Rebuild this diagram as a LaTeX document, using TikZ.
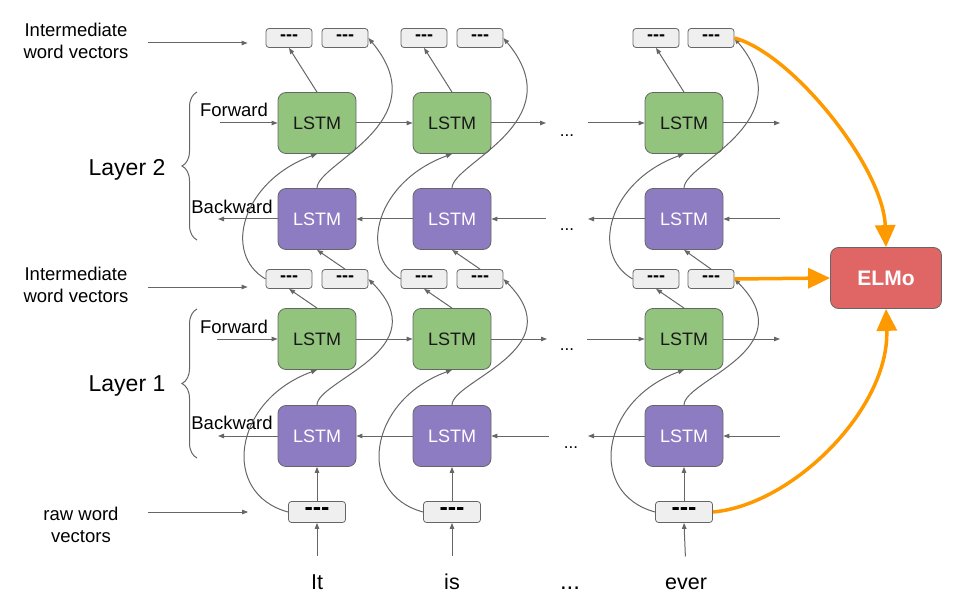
\documentclass[tikz,border=0pt]{standalone}
\usepackage{fontspec}
\setmainfont{Liberation Sans}
\usetikzlibrary{arrows.meta,decorations.pathreplacing}
\definecolor{lstmgreen}{HTML}{93C47D}
\definecolor{lstmpurple}{HTML}{8E7CC3}
\definecolor{elmored}{HTML}{E06666}
\definecolor{vecgray}{HTML}{EFEFEF}
\definecolor{linegray}{HTML}{666666}
\definecolor{elmoorange}{HTML}{FF9900}

\begin{document}
\begin{tikzpicture}[x=1pt,y=1pt,
  lstm/.style={draw=linegray,line width=0.8pt,rounded corners=8pt,minimum width=78pt,minimum height=61pt,font=\fontsize{18}{20}\selectfont},
  fwd/.style={lstm,fill=lstmgreen,text=black!90},
  bwd/.style={lstm,fill=lstmpurple,text=white},
  vec/.style={draw=linegray,line width=0.8pt,fill=vecgray,rounded corners=3pt,minimum width=46pt,minimum height=19pt,inner sep=0pt,font=\bfseries\fontsize{18}{18}\selectfont},
  rawvec/.style={vec,minimum width=57pt,minimum height=21pt,font=\bfseries\fontsize{25}{25}\selectfont},
  elmobox/.style={draw=linegray,line width=0.8pt,fill=elmored,rounded corners=8pt,minimum width=111pt,minimum height=61pt,text=white,font=\bfseries\fontsize{21}{24}\selectfont},
  lbl/.style={font=\fontsize{18.5}{22}\selectfont,align=center},
  word/.style={anchor=base,text height=14pt,text depth=4pt,font=\fontsize{21.5}{24}\selectfont},
  dots/.style={anchor=base,font=\fontsize{17}{20}\selectfont},
  link/.style={draw=linegray,line width=1pt,-{Triangle[length=6pt,width=4.5pt]}},
  feed/.style={draw=elmoorange,line width=3.5pt,-{Triangle[length=22pt,width=20pt]}},
  layerbrace/.style={draw=linegray,line width=1pt,decorate,decoration={brace,amplitude=15pt}}]
\useasboundingbox (0,0) rectangle (971,614);
% left labels
\node[lbl] (iv2) at (76,573) {Intermediate\\word vectors};
\node[lbl] (iv1) at (76,329) {Intermediate\\word vectors};
\node[lbl] (rawlbl) at (81,89) {raw word\\vectors};
\node[font=\fontsize{23}{26}\selectfont] (layer2) at (127,444) {Layer 2};
\node[font=\fontsize{23}{26}\selectfont] (layer1) at (127,228) {Layer 1};
\node[lbl] (fw2) at (234,504) {Forward};
\node[lbl] (bw2) at (232,407) {Backward};
\node[lbl] (fw1) at (234,287) {Forward};
\node[lbl] (bw1) at (232,191) {Backward};
\draw[layerbrace] (197,374) -- (197,522);
\draw[layerbrace] (197,156) -- (197,305);
% column "It"
\node[fwd] (f2a) at (317,491) {LSTM};
\node[bwd] (b2a) at (317,395) {LSTM};
\node[fwd] (f1a) at (317,275) {LSTM};
\node[bwd] (b1a) at (317,178) {LSTM};
\node[vec] (h2fa) at (289,576) {-{}-{}-};
\node[vec] (h2ba) at (345,576) {-{}-{}-};
\node[vec] (h1fa) at (289,335) {-{}-{}-};
\node[vec] (h1ba) at (345,335) {-{}-{}-};
\node[rawvec] (xa) at (317,102) {-{}-{}-};
\node[word] (wa) at (317,25) {It};
% column "is"
\node[fwd] (f2b) at (452,491) {LSTM};
\node[bwd] (b2b) at (452,395) {LSTM};
\node[fwd] (f1b) at (452,275) {LSTM};
\node[bwd] (b1b) at (452,178) {LSTM};
\node[vec] (h2fb) at (424,576) {-{}-{}-};
\node[vec] (h2bb) at (480,576) {-{}-{}-};
\node[vec] (h1fb) at (424,335) {-{}-{}-};
\node[vec] (h1bb) at (480,335) {-{}-{}-};
\node[rawvec] (xb) at (452,102) {-{}-{}-};
\node[word] (wb) at (452,25) {is};
% column "ever"
\node[fwd] (f2c) at (684,491) {LSTM};
\node[bwd] (b2c) at (684,395) {LSTM};
\node[fwd] (f1c) at (684,275) {LSTM};
\node[bwd] (b1c) at (684,178) {LSTM};
\node[vec] (h2fc) at (656,576) {-{}-{}-};
\node[vec] (h2bc) at (711,576) {-{}-{}-};
\node[vec] (h1fc) at (656,335) {-{}-{}-};
\node[vec] (h1bc) at (711,335) {-{}-{}-};
\node[rawvec] (xc) at (684,102) {-{}-{}-};
\node[word] (wc) at (686,25) {ever};
% dots
\node[dots] (d2f) at (567,477) {...};
\node[dots] (d2b) at (567,383) {...};
\node[dots] (d1f) at (567,264) {...};
\node[dots] (d1b) at (571,166) {...};
\node[word,font=\fontsize{24}{26}\selectfont] (dw) at (570,25) {...};
% ELMo
\node[elmobox] (elmo) at (886,336) {ELMo};
% free ends
\coordinate (iv2tail) at (148,571);
\coordinate (iv1tail) at (148,327);
\coordinate (rawtail) at (148,102);
\coordinate (f2in) at (220,491);
\coordinate (b2out) at (218,395);
\coordinate (f1in) at (217,275);
\coordinate (b1out) at (218,178);
\coordinate (f2gl) at (546,491);
\coordinate (f2gr) at (588,491);
\coordinate (b2gl) at (546,395);
\coordinate (b2gr) at (588,395);
\coordinate (f1gl) at (547,275);
\coordinate (f1gr) at (587,275);
\coordinate (b1gl) at (549,178);
\coordinate (b1gr) at (588,178);
\coordinate (f2end) at (780,491);
\coordinate (b2end) at (780,395);
\coordinate (f1end) at (780,275);
\coordinate (b1end) at (780,178);
% label arrows
\draw[link,shorten >=18pt] (iv2tail) -- (iv2tail -| h2fa.west);
\draw[link,shorten >=18pt] (iv1tail) -- (iv1tail -| h1fa.west);
\draw[link,shorten >=40pt] (rawtail) -- (xa.west);
% horizontal links
\draw[link] (f2in) -- (f2a.west);
\draw[link] (f2a.east) -- (f2b.west);
\draw[link] (f2b.east) -- (f2gl);
\draw[link] (f2gr) -- (f2c.west);
\draw[link] (f2c.east) -- (f2end);
\draw[link] (b2a.west) -- (b2out);
\draw[link] (b2b.west) -- (b2a.east);
\draw[link] (b2gl) -- (b2b.east);
\draw[link] (b2c.west) -- (b2gr);
\draw[link] (b2end) -- (b2c.east);
\draw[link] (f1in) -- (f1a.west);
\draw[link] (f1a.east) -- (f1b.west);
\draw[link] (f1b.east) -- (f1gl);
\draw[link] (f1gr) -- (f1c.west);
\draw[link] (f1c.east) -- (f1end);
\draw[link] (b1a.west) -- (b1out);
\draw[link] (b1b.west) -- (b1a.east);
\draw[link] (b1gl) -- (b1b.east);
\draw[link] (b1c.west) -- (b1gr);
\draw[link] (b1end) -- (b1c.east);
% vertical links, column "It"
\draw[link,shorten <=15pt] (wa.north) -- (xa.south);
\draw[link] (xa.north) -- (b1a.south);
\draw[link] (xa.west) to[out=165,in=200,out distance=70,in distance=90] (f1a.south);
\draw[link] (f1a.north) -- (h1fa.south);
\draw[link] (b1a.north) to[out=90,in=-45,out distance=25,in distance=100] (h1ba.east);
\draw[link] (h1fa.west) to[out=150,in=200,out distance=50,in distance=80] (f2a.south);
\draw[link] (h1ba.north) -- (b2a.south);
\draw[link] (f2a.north) -- (h2fa.south);
\draw[link] (b2a.north) to[out=90,in=-50,out distance=25,in distance=110] (h2ba.east);
% vertical links, column "is"
\draw[link,shorten <=15pt] (wb.north) -- (xb.south);
\draw[link] (xb.north) -- (b1b.south);
\draw[link] (xb.west) to[out=165,in=200,out distance=70,in distance=90] (f1b.south);
\draw[link] (f1b.north) -- (h1fb.south);
\draw[link] (b1b.north) to[out=90,in=-45,out distance=25,in distance=100] (h1bb.east);
\draw[link] (h1fb.west) to[out=150,in=200,out distance=50,in distance=80] (f2b.south);
\draw[link] (h1bb.north) -- (b2b.south);
\draw[link] (f2b.north) -- (h2fb.south);
\draw[link] (b2b.north) to[out=90,in=-50,out distance=25,in distance=110] (h2bb.east);
% vertical links, column "ever"
\draw[link,shorten <=15pt] (wc.north) -- (xc.south);
\draw[link] (xc.north) -- (b1c.south);
\draw[link] (xc.west) to[out=165,in=200,out distance=70,in distance=90] (f1c.south);
\draw[link] (f1c.north) -- (h1fc.south);
\draw[link] (b1c.north) to[out=90,in=-45,out distance=25,in distance=100] (h1bc.east);
\draw[link] (h1fc.west) to[out=150,in=200,out distance=50,in distance=80] (f2c.south);
\draw[link] (h1bc.north) -- (b2c.south);
\draw[link] (f2c.north) -- (h2fc.south);
\draw[link] (b2c.north) to[out=90,in=-50,out distance=25,in distance=110] (h2bc.east);
% into ELMo
\draw[feed] (h2bc.east) to[out=-15,in=92,out distance=60,in distance=80] (elmo.north);
\draw[feed] (h1bc.east) -- (elmo.west);
\draw[feed] (xc.east) to[out=5,in=-88,out distance=80,in distance=100] (elmo.south);
\end{tikzpicture}
\end{document}
